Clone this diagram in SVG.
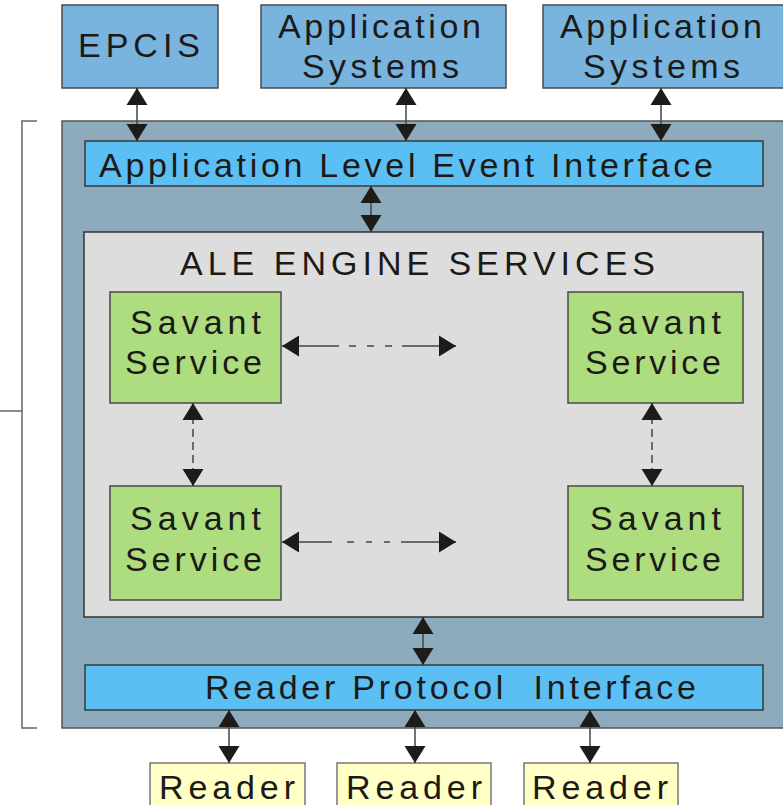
<svg xmlns="http://www.w3.org/2000/svg" width="783" height="805" viewBox="0 0 783 805">
<defs>
<style>
.box{stroke:#4a4a4a;stroke-width:1.5}
.ext{fill:#78b4dd}
.outer{fill:#8eaabd;stroke:#555;stroke-width:1.5}
.iface{fill:#5cbff4;stroke:#3a3a3a;stroke-width:1.5}
.engine{fill:#dddddd;stroke:#333;stroke-width:1.5}
.sav{fill:#addd7f}
.rdr{fill:#ffffc6;stroke:#777;stroke-width:1.5}
text{font-family:"Liberation Sans",Arial,sans-serif;font-size:34px;fill:#1c1a17}
.con{stroke:#444;stroke-width:1.5;fill:none;marker-start:url(#ah);marker-end:url(#ah)}
.dash{stroke-dasharray:8 5}
.bracket{stroke:#666;stroke-width:1.5;fill:none}
</style>
<marker id="ah" markerUnits="userSpaceOnUse" markerWidth="17" markerHeight="22" viewBox="0 0 17 22" refX="17" refY="11" orient="auto-start-reverse">
<path d="M0,0.5 L17,11 L0,21.5 z" fill="#1e1c19"/>
</marker>
</defs>

<g id="bracket">
<path class="bracket" d="M37,121 H22 V728 H37 M22,411 H0"/>
</g>

<g id="ale-container">
<rect class="outer" x="62" y="121" width="722" height="607"/>
</g>

<g id="epcis">
<rect class="box ext" x="62" y="5" width="156" height="83"/>
<text x="78" y="57" textLength="122" lengthAdjust="spacing">EPCIS</text>
</g>
<g id="app1">
<rect class="box ext" x="261" y="5" width="245" height="83"/>
<text x="278" y="38" textLength="203" lengthAdjust="spacing">Application</text>
<text x="302" y="78" textLength="157" lengthAdjust="spacing">Systems</text>
</g>
<g id="app2">
<rect class="box ext" x="543" y="5" width="242" height="83"/>
<text x="560" y="38" textLength="202" lengthAdjust="spacing">Application</text>
<text x="583" y="78" textLength="157" lengthAdjust="spacing">Systems</text>
</g>

<g id="ale-interface">
<rect class="iface" x="85" y="141" width="678" height="45"/>
<text x="99" y="177" textLength="614" lengthAdjust="spacing">Application Level Event Interface</text>
</g>

<g id="engine">
<rect class="engine" x="84" y="232" width="679" height="385"/>
<text x="180" y="275" textLength="475" lengthAdjust="spacing">ALE ENGINE SERVICES</text>
</g>

<g id="savant-tl">
<rect class="box sav" x="110" y="292" width="171" height="111"/>
<text x="130" y="334" textLength="131" lengthAdjust="spacing">Savant</text>
<text x="125" y="374" textLength="137" lengthAdjust="spacing">Service</text>
</g>
<g id="savant-tr">
<rect class="box sav" x="568" y="292" width="175" height="111"/>
<text x="590" y="334" textLength="131" lengthAdjust="spacing">Savant</text>
<text x="585" y="374" textLength="136" lengthAdjust="spacing">Service</text>
</g>
<g id="savant-bl">
<rect class="box sav" x="110" y="486" width="171" height="114"/>
<text x="130" y="530" textLength="131" lengthAdjust="spacing">Savant</text>
<text x="125" y="571" textLength="137" lengthAdjust="spacing">Service</text>
</g>
<g id="savant-br">
<rect class="box sav" x="568" y="486" width="175" height="114"/>
<text x="590" y="530" textLength="131" lengthAdjust="spacing">Savant</text>
<text x="585" y="571" textLength="136" lengthAdjust="spacing">Service</text>
</g>

<g id="reader-interface">
<rect class="iface" x="85" y="665" width="678" height="45"/>
<text x="205" y="699" textLength="491" lengthAdjust="spacing" xml:space="preserve">Reader Protocol  Interface</text>
</g>

<g id="reader1">
<rect class="rdr" x="150" y="763" width="155" height="50"/>
<text x="159" y="799" textLength="136" lengthAdjust="spacing">Reader</text>
</g>
<g id="reader2">
<rect class="rdr" x="337" y="763" width="154" height="50"/>
<text x="346" y="799" textLength="136" lengthAdjust="spacing">Reader</text>
</g>
<g id="reader3">
<rect class="rdr" x="524" y="763" width="154" height="50"/>
<text x="532" y="799" textLength="136" lengthAdjust="spacing">Reader</text>
</g>

<g id="connectors">
<line class="con" x1="137" y1="88" x2="137" y2="141"/>
<line class="con" x1="406" y1="88" x2="406" y2="141"/>
<line class="con" x1="661" y1="88" x2="661" y2="141"/>
<line class="con" x1="371" y1="186" x2="371" y2="232"/>
<line class="con" x1="282" y1="346" x2="456" y2="346" style="stroke-dasharray:57 10 7 11 7 11 7 10 60"/>
<line class="con" x1="282" y1="542" x2="456" y2="542" style="stroke-dasharray:50 15 7 12 6 12 6 11 60"/>
<line class="con dash" x1="193" y1="403" x2="193" y2="486"/>
<line class="con dash" x1="652" y1="403" x2="652" y2="486"/>
<line class="con" x1="423" y1="617" x2="423" y2="665"/>
<line class="con" x1="229" y1="710" x2="229" y2="763"/>
<line class="con" x1="415" y1="710" x2="415" y2="763"/>
<line class="con" x1="590" y1="710" x2="590" y2="763"/>
</g>
</svg>
